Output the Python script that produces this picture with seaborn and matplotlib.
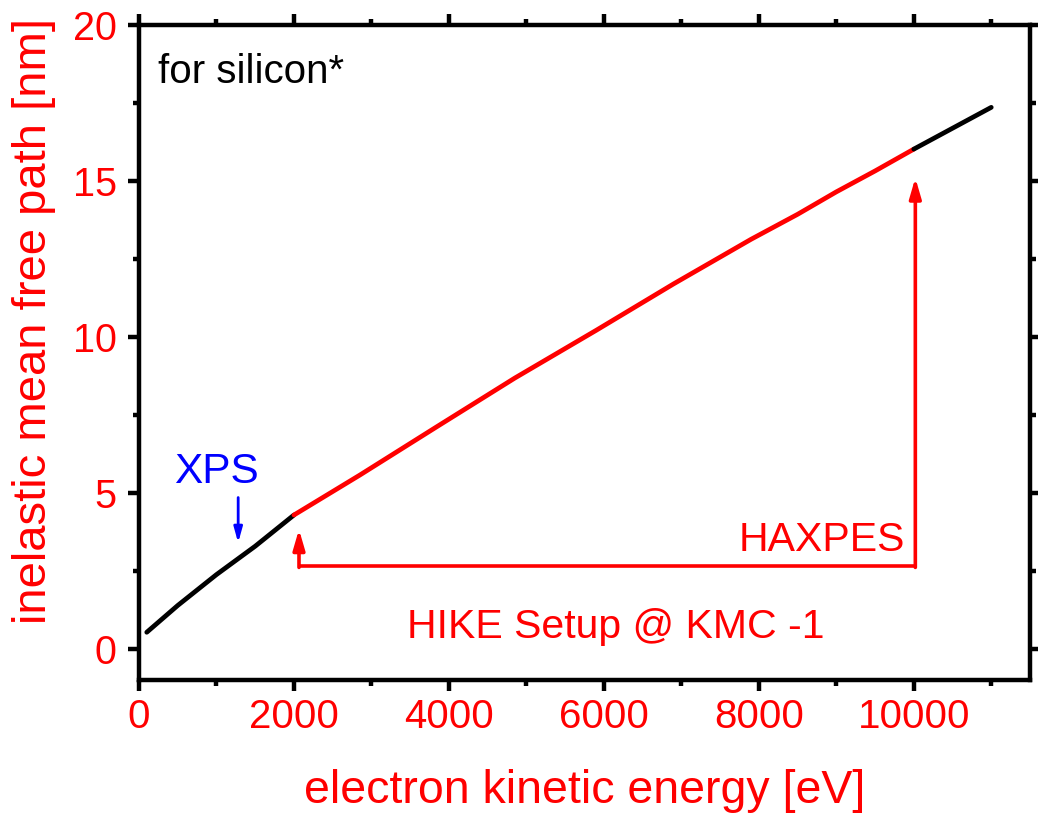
import numpy as np
import pandas as pd
import matplotlib
matplotlib.use("Agg")
import matplotlib.pyplot as plt
from matplotlib.ticker import MultipleLocator
import seaborn as sns

# Inelastic mean free path of electrons in silicon (TPP-2M style curve)
energy_low = [100, 500, 1000, 1500, 2000]
imfp_low = [0.53, 1.39, 2.38, 3.29, 4.29]

energy_haxpes = [2000, 2850, 3850, 4850, 5900, 6900, 7900, 8500, 9000, 9500, 10000]
imfp_haxpes = [4.29, 5.57, 7.13, 8.68, 10.21, 11.70, 13.13, 13.93, 14.65, 15.32, 16.02]

energy_high = [10000, 11000]
imfp_high = [16.02, 17.36]

segment_colors = {"low": "black", "haxpes": "red", "high": "black"}

# HIKE energy window bracket
hike_start, hike_end = 2065, 10020
bracket_y = 2.65
hike_tip_low = 3.83
hike_tip_high = 15.1

# XPS marker
xps_energy = 1280
xps_tip = 3.4
xps_tail = 4.85

x_ticks = [0, 2000, 4000, 6000, 8000, 10000]
y_ticks = [0, 5, 10, 15, 20]

df = pd.concat([
    pd.DataFrame({"energy": energy_low, "imfp": imfp_low, "segment": "low"}),
    pd.DataFrame({"energy": energy_haxpes, "imfp": imfp_haxpes, "segment": "haxpes"}),
    pd.DataFrame({"energy": energy_high, "imfp": imfp_high, "segment": "high"}),
], ignore_index=True)

sns.set_style("ticks")
plt.rcParams["font.family"] = ["Liberation Sans", "DejaVu Sans"]

fig = plt.figure(figsize=(10.38, 8.22), dpi=100)
ax = fig.add_axes([139 / 1038, 1 - 680 / 822, (1030 - 139) / 1038, (680 - 25) / 822])

sns.lineplot(data=df, x="energy", y="imfp", hue="segment", palette=segment_colors,
             units="segment", estimator=None, sort=False, legend=False,
             linewidth=3.4, ax=ax)

ax.set_xlim(0, 11500)
ax.set_ylim(-1, 20)
ax.set_xticks(x_ticks)
ax.set_yticks(y_ticks)
ax.xaxis.set_minor_locator(MultipleLocator(1000))
ax.yaxis.set_minor_locator(MultipleLocator(2.5))

for s in ax.spines.values():
    s.set_visible(True)
    s.set_linewidth(3.2)
    s.set_color("black")

ax.tick_params(which="both", direction="out", top=True, right=True,
               labeltop=False, labelright=False, color="black",
               labelcolor="red")
ax.tick_params(which="major", length=8, width=3.2)
ax.tick_params(which="minor", length=4.2, width=3.2)
ax.tick_params(axis="x", which="major", labelsize=29, pad=5)
ax.tick_params(axis="y", which="major", labelsize=28.5, pad=8)

ax.set_xlabel("electron kinetic energy [eV]", color="red", fontsize=33.5, labelpad=24)
ax.set_ylabel("inelastic mean free path [nm]", color="red", fontsize=34, labelpad=12)
ax.yaxis.label.set_y(0.548)

# HIKE bracket
ax.plot([hike_start, hike_end], [bracket_y, bracket_y], color="red", lw=2.6,
        solid_capstyle="butt")
ax.annotate("", xy=(hike_start, hike_tip_low), xytext=(hike_start, bracket_y - 0.04),
            arrowprops=dict(arrowstyle="-|>,head_length=1.2,head_width=0.35",
                            color="red", lw=2.6, shrinkA=0, shrinkB=0))
ax.annotate("", xy=(hike_end, hike_tip_high), xytext=(hike_end, bracket_y - 0.04),
            arrowprops=dict(arrowstyle="-|>,head_length=1.2,head_width=0.35",
                            color="red", lw=2.6, shrinkA=0, shrinkB=0))

ax.text(9890, 3.5, "HAXPES", color="red", fontsize=29.5, ha="right", va="center")
ax.text(6150, 0.7, "HIKE Setup @ KMC -1", color="red", fontsize=29.5,
        ha="center", va="center")

# XPS marker
ax.annotate("", xy=(xps_energy, xps_tip), xytext=(xps_energy, xps_tail),
            arrowprops=dict(arrowstyle="-|>,head_length=0.9,head_width=0.25",
                            color="blue", lw=2, shrinkA=0, shrinkB=0))
ax.text(1005, 5.68, "XPS", color="blue", fontsize=30.5, ha="center", va="center")

ax.text(240, 18.5, "for silicon*", color="black", fontsize=29, ha="left", va="center")

fig.savefig("out.png", dpi=100)
